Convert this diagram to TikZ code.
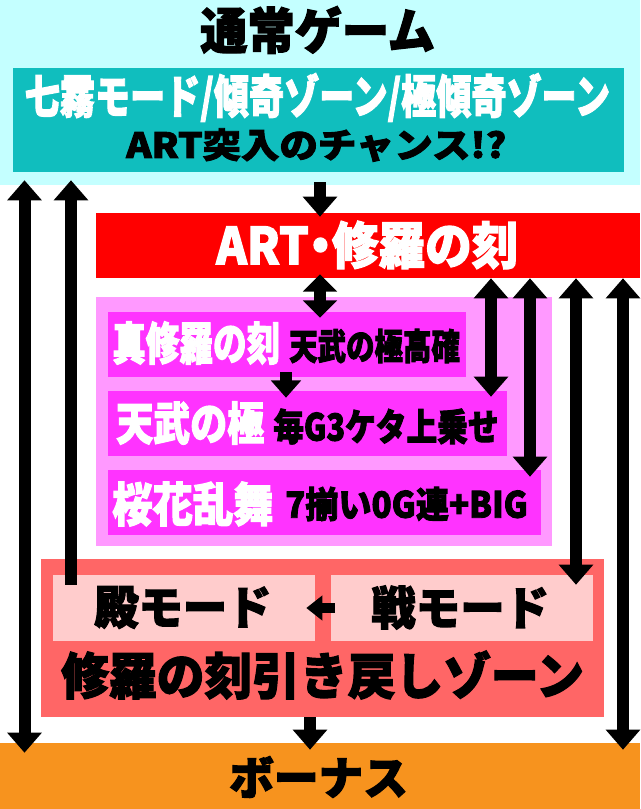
\documentclass[tikz,border=0pt]{standalone}
\usepackage{fontspec}
\setmainfont{Noto Sans CJK JP}[BoldFeatures={FakeBold=2.5}]
\usepackage{graphicx}
\usetikzlibrary{arrows.meta,calc}
\definecolor{cyanband}{RGB}{196,255,255}
\definecolor{teal}{RGB}{16,190,190}
\definecolor{redbox}{RGB}{255,0,0}
\definecolor{pinkbox}{RGB}{255,153,255}
\definecolor{magbox}{RGB}{255,51,255}
\definecolor{salmon}{RGB}{255,102,102}
\definecolor{lightpink}{RGB}{255,204,204}
\definecolor{orangeband}{RGB}{247,147,30}
\newcommand\fittext[3]{\resizebox{#1pt}{\height}{\fontsize{#2pt}{#2pt}\selectfont\bfseries #3}}
\tikzset{
  rbox/.style n args={3}{fill=#1, draw=none, inner sep=0pt, minimum width=#2*0.75pt, minimum height=#3*0.75pt},
  lbl/.style={inner sep=0pt, anchor=west},
  arr/.style={line width=9pt, -{Triangle[width=25pt,length=15pt]}},
  dbl/.style={line width=9pt, {Triangle[width=25pt,length=15pt]}-{Triangle[width=25pt,length=15pt]}},
  sdbl/.style={line width=9pt, {Triangle[width=25pt,length=13pt]}-{Triangle[width=25pt,length=13pt]}},
  sarr/.style={line width=9pt, -{Triangle[width=22pt,length=13pt]}},
  harr/.style={line width=7.5pt, -{Triangle[width=18pt,length=12pt]}},
}
\begin{document}
\begin{tikzpicture}[x=0.75pt,y=-0.75pt]
\useasboundingbox (0,0) rectangle (640,809);
% bands and boxes
\node[rbox={cyanband}{640}{185}] (cyan) at (320,92.5) {};
\node[rbox={teal}{611}{104}] (teal) at (318.5,120) {};
\node[rbox={redbox}{544}{65}] (red) at (368,245.5) {};
\node[rbox={pinkbox}{456}{249}] (pink) at (324,421.5) {};
\node[rbox={magbox}{358.5}{65}] (m1) at (286.75,344.5) {};
\node[rbox={magbox}{399.5}{65}] (m2) at (307.25,423.5) {};
\node[rbox={magbox}{433.5}{65}] (m3) at (324.25,502.5) {};
\node[rbox={salmon}{563}{158}] (zone) at (322.5,638) {};
\node[rbox={lightpink}{262}{66}] (ton) at (184,608) {};
\node[rbox={lightpink}{262}{66}] (sen) at (462,608) {};
\node[rbox={orangeband}{640}{66}] (bonus) at (320,776) {};
% texts
\node[lbl] (t0) at (200,30) {\fittext{176}{37}{通常ゲーム}};
\node[lbl,text=white] (t1) at (24.5,97.5) {\fittext{439}{34.5}{七霧モード/傾奇ゾーン/極傾奇ゾーン}};
\node[lbl] (t2) at (126,145) {\fittext{285}{26}{ART突入のチャンス!?}};
\node[lbl,text=white] (t3) at (216,245) {\fittext{226.5}{38}{ART\kern-0.25em・\kern-0.25em修羅の刻}};
\node[lbl,text=white] (t4) at (112,343) {\fittext{126}{34}{真修羅の刻}};
\node[lbl] (t5) at (289,346) {\fittext{128}{27}{天武の極高確}};
\node[lbl,text=white] (t6) at (116,423) {\fittext{111}{34}{天武の極}};
\node[lbl] (t7) at (273,426.5) {\fittext{169}{28}{毎G3ケタ上乗せ}};
\node[lbl,text=white] (t8) at (112,504) {\fittext{121}{35}{桜花乱舞}};
\node[lbl] (t9) at (285,504) {\fittext{182}{27}{7揃い0G連+BIG}};
\node[lbl] (t10) at (94,607.5) {\fittext{133}{34.5}{殿モード}};
\node[lbl] (t11) at (371,607.5) {\fittext{133.5}{34.5}{戦モード}};
\node[lbl] (t12) at (61,675) {\fittext{392}{37.5}{修羅の刻引き戻しゾーン}};
\node[lbl] (t13) at (229,777) {\fittext{134}{34}{ボーナス}};
% arrow columns
\coordinate (xa) at (320,0);
\coordinate (xb) at (286,0);
\coordinate (xc) at (491,0);
\coordinate (xd) at (530,0);
\coordinate (xe) at (576,0);
\coordinate (xf) at (623,0);
\coordinate (xg) at (24.5,0);
\coordinate (xh) at (71,0);
\coordinate (xi) at (310,0);
% arrows
\draw[arr] ($(cyan.south -| xa)+(0,-3)$) -- ($(red.north -| xa)+(0,4)$);
\draw[sdbl] ($(red.south -| xa)+(0,-4)$) -- ($(m1.north -| xa)+(0,6)$);
\draw[sarr] ($(m1.south -| xb)+(0,-5)$) -- ($(m2.north -| xb)+(0,7)$);
\draw[dbl] (red.south -| xc) -- ($(m2.north -| xc)+(0,6)$);
\draw[dbl] (red.south -| xd) -- ($(m3.north -| xd)+(0,7)$);
\draw[dbl] (red.south -| xe) -- ($(sen.north -| xe)+(0,10)$);
\draw[dbl] (red.south -| xf) -- ($(bonus.north -| xf)+(0,7)$);
\draw[dbl] ($(cyan.south -| xg)+(0,-5)$) -- ($(bonus.north -| xg)+(0,10)$);
\draw[arr] ($(ton.north -| xh)+(0,10)$) -- ($(cyan.south -| xh)+(0,-5)$);
\draw[harr] ($(sen.west)+(4,0)$) -- ($(ton.east)+(-9,0)$);
\draw[arr] (zone.south -| xi) -- ($(bonus.north -| xi)+(0,7)$);
\end{tikzpicture}
\end{document}
